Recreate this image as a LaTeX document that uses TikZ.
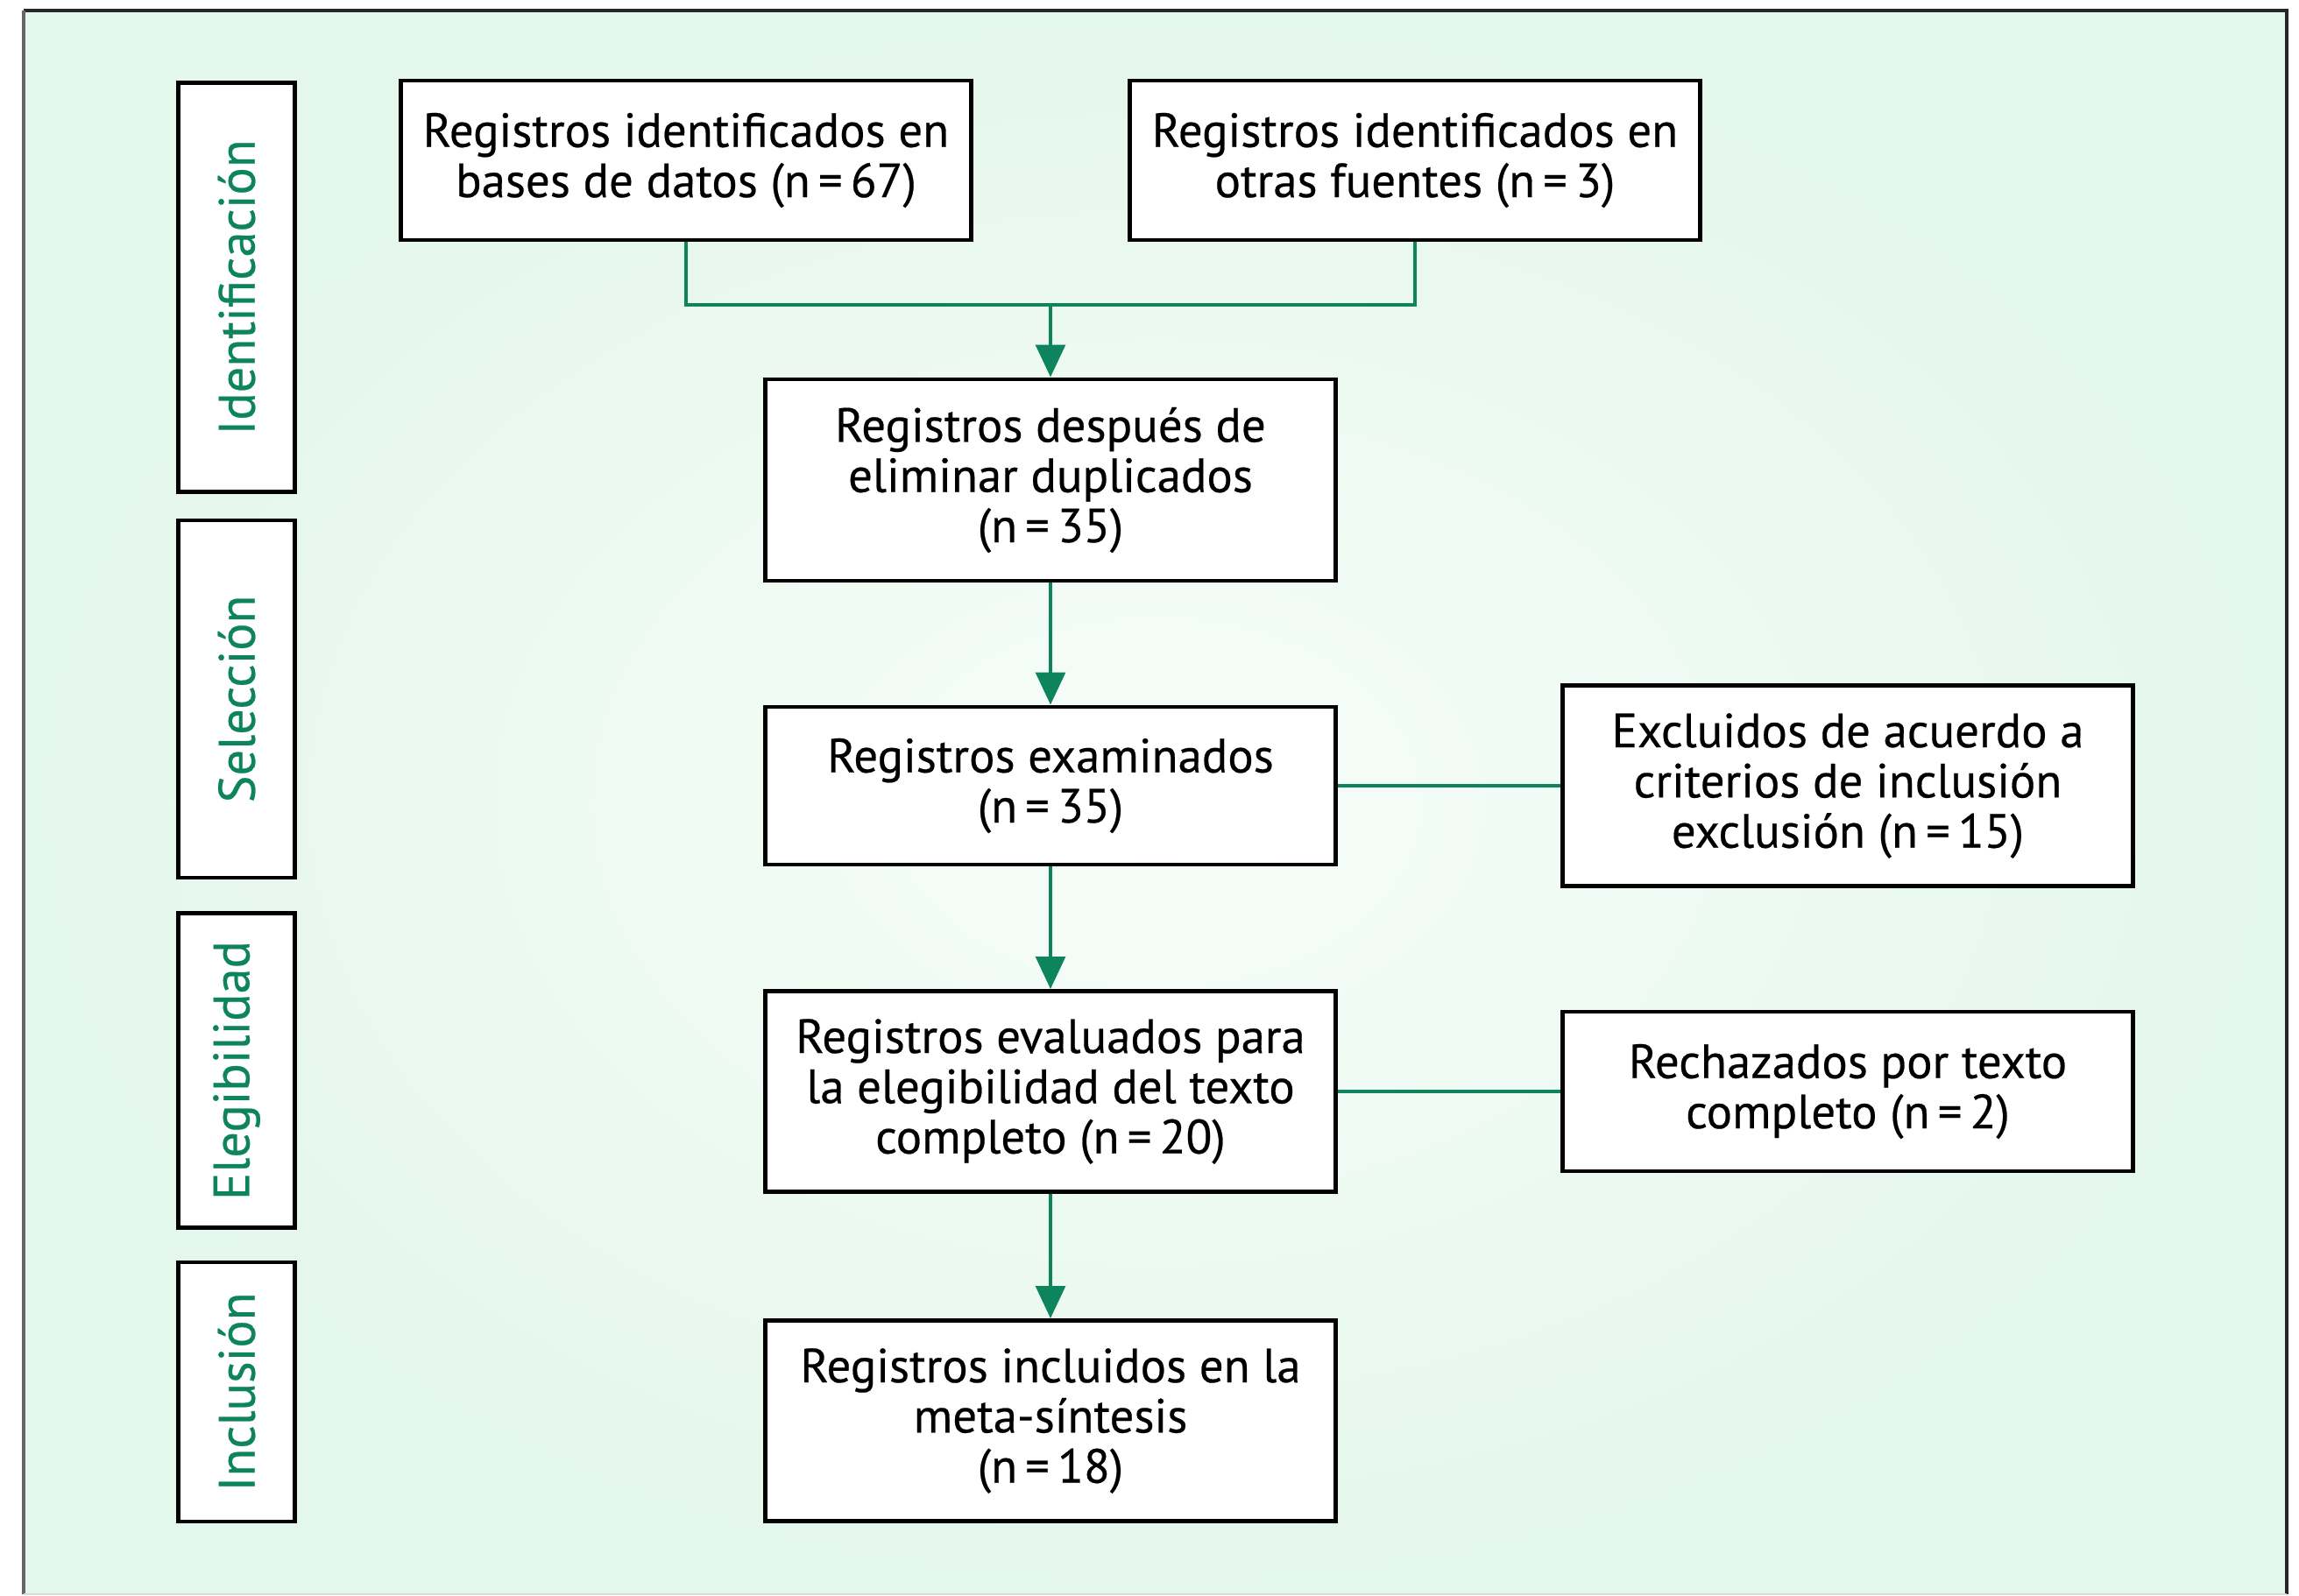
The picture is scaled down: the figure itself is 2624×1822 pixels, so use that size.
\documentclass[tikz,border=0pt]{standalone}
\usepackage{fontspec}
\setmainfont{PT Sans}[FakeBold=0.4]
\usetikzlibrary{arrows.meta}
\definecolor{prgreen}{RGB}{14,132,94}
\definecolor{bgmint}{RGB}{228,247,236}
\definecolor{bglight}{RGB}{247,253,249}

\begin{document}
\begin{tikzpicture}[x=0.01cm,y=-0.01cm,
	box/.style={draw=black,fill=white,line width=1.35pt,align=center,inner sep=0pt,
		font=\fontsize{15.6}{16.3}\selectfont},
	phase/.style={box,text=prgreen,rotate=90,minimum height=1.33cm,
		font=\fontsize{16.6}{18}\selectfont},
	link/.style={draw=prgreen,line width=1.3pt},
	flow/.style={link,-{Triangle[width=9.5pt,length=10.5pt]}}]
	\useasboundingbox (0,0) rectangle (2624,1822);
	% background panel
	\shade[inner color=bglight,outer color=bgmint] (27,12) rectangle (2610,1820);
	\draw[line width=1.2pt,black!85] (27,12) -- (2610,12) -- (2610,1820);
	\draw[line width=1.2pt,gray!80!black] (27,12) -- (27,1820);
	\draw[line width=0.8pt,gray!30] (27,1820) -- (2610,1820);
	% phases
	\node[phase,minimum width=4.67cm] (ident) at (270,328) {Identificación};
	\node[phase,minimum width=4.08cm] (selec) at (270,798) {Selección};
	\node[phase,minimum width=3.59cm] (eleg) at (270,1222) {Elegibilidad};
	\node[phase,minimum width=2.96cm] (incl) at (270,1589) {Inclusión};
	% boxes
	\node[box,minimum width=6.50cm,minimum height=1.82cm] (bases) at (783,183)
		{Registros identificados en\\bases de datos (n\,=\,67)};
	\node[box,minimum width=6.50cm,minimum height=1.82cm] (otras) at (1615,183)
		{Registros identificados en\\otras fuentes (n\,=\,3)};
	\node[box,minimum width=6.50cm,minimum height=2.30cm] (dupl) at (1199,548)
		{Registros después de\\eliminar duplicados\\(n\,=\,35)};
	\node[box,minimum width=6.50cm,minimum height=1.80cm] (exam) at (1199,897)
		{Registros examinados\\(n\,=\,35)};
	\node[box,minimum width=6.50cm,minimum height=2.29cm] (excl) at (2109,897)
		{Excluidos de acuerdo a\\criterios de inclusión\\exclusión (n\,=\,15)};
	\node[box,minimum width=6.50cm,minimum height=2.29cm] (eval) at (1199,1246)
		{Registros evaluados para\\la elegibilidad del texto\\completo (n\,=\,20)};
	\node[box,minimum width=6.50cm,minimum height=1.82cm] (rech) at (2109,1246)
		{Rechazados por texto\\completo (n\,=\,2)};
	\node[box,minimum width=6.50cm,minimum height=2.29cm] (meta) at (1199,1622)
		{Registros incluidos en la\\meta-síntesis\\(n\,=\,18)};
	% connectors
	\coordinate (join) at (1199,348);
	\draw[link] (bases.south) |- (join) -| (otras.south);
	\draw[flow] (join) -- (dupl.north);
	\draw[flow] (dupl) -- (exam);
	\draw[flow] (exam) -- (eval);
	\draw[flow] (eval) -- (meta);
	\draw[link] (exam) -- (excl);
	\draw[link] (eval) -- (rech);
\end{tikzpicture}
\end{document}
